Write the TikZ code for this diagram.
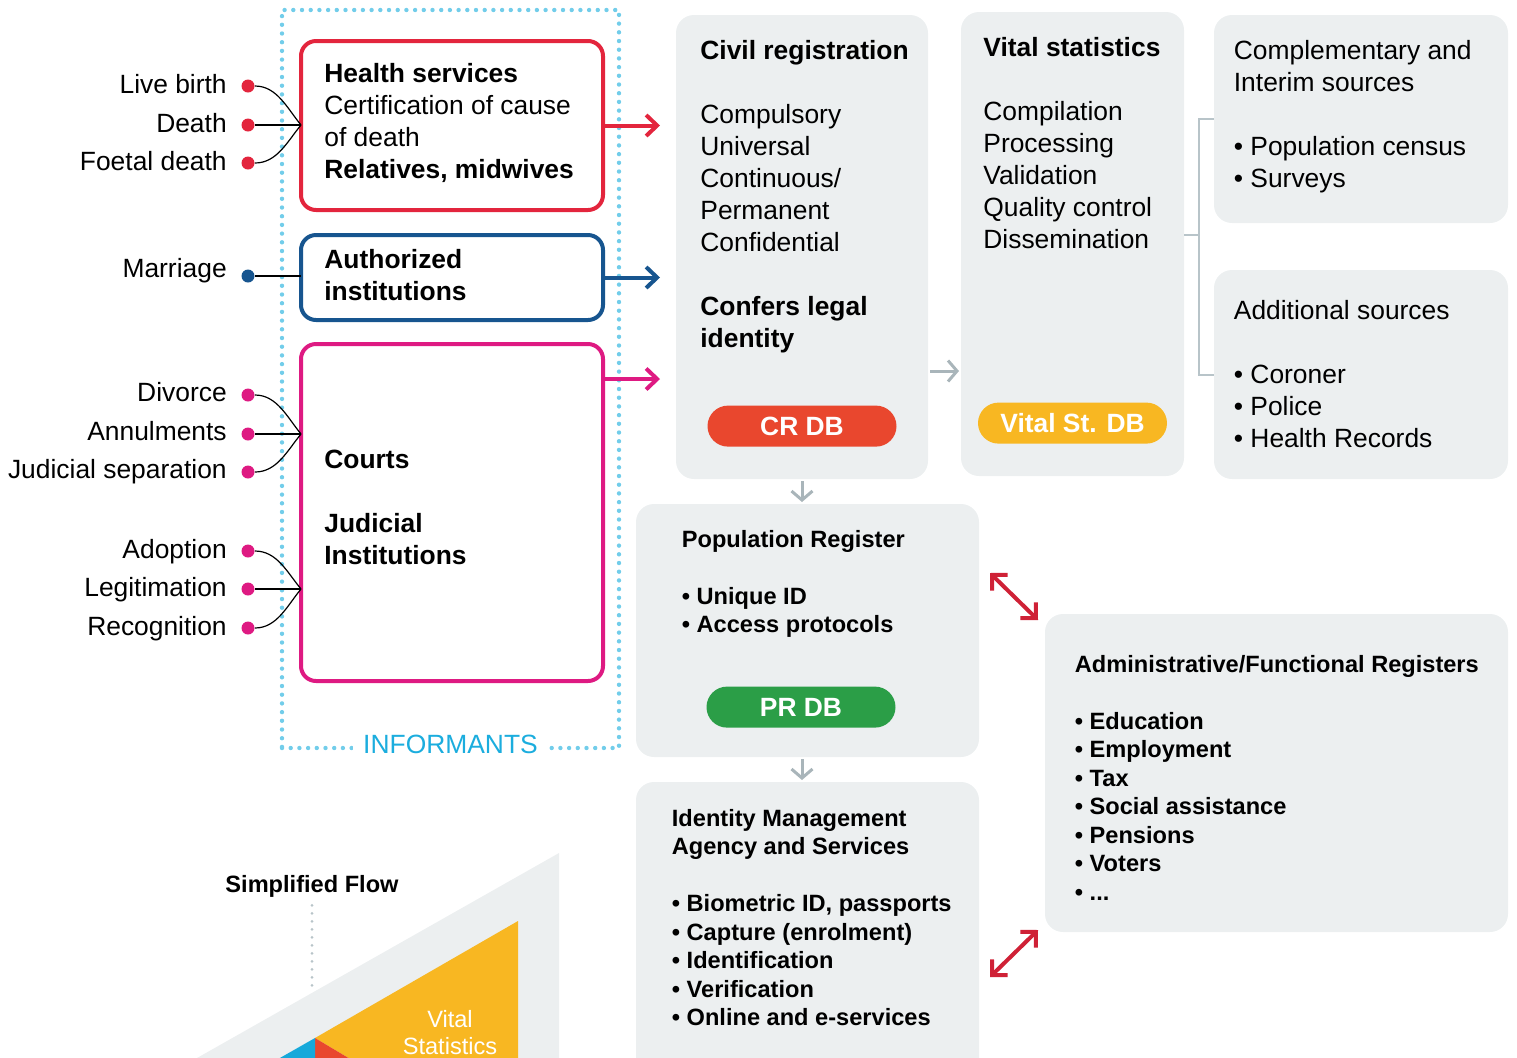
\documentclass[tikz,border=0pt]{standalone}
\usepackage{fontspec}
\setmainfont{Liberation Sans}
\usepackage{xcolor}
\usetikzlibrary{arrows.meta,positioning}

\definecolor{hsred}{HTML}{E3253D}
\definecolor{aiblue}{HTML}{17558F}
\definecolor{ctpink}{HTML}{DE1A82}
\definecolor{infcyan}{HTML}{72CDEA}
\definecolor{inftext}{HTML}{1BADDE}
\definecolor{panel}{HTML}{ECEFF0}
\definecolor{flowgray}{HTML}{A9B5BA}
\definecolor{brkgray}{HTML}{B8C4C9}
\definecolor{crdb}{HTML}{E9472E}
\definecolor{vsdb}{HTML}{F8B722}
\definecolor{prdb}{HTML}{2B9E47}
\definecolor{linkred}{HTML}{CF2136}
\definecolor{sfblue}{HTML}{16A9DA}

\begin{document}
\begin{tikzpicture}[x=0.5pt, y=-0.5pt,
  box/.style={draw, line width=2pt, rounded corners=7.5pt, minimum width=151pt, anchor=north west, outer sep=0pt},
  pnl/.style={fill=panel, rounded corners=9pt, anchor=north west, outer sep=0pt},
  inf/.style={draw=infcyan, line width=2.2pt, dash pattern=on 0pt off 4.35pt, line cap=round, anchor=north west, outer sep=0pt},
  txt/.style={align=left, inner sep=0pt, font=\fontsize{13.2}{16}\selectfont},
  stxt/.style={align=left, inner sep=0pt, font=\fontsize{11.8}{14.25}\selectfont\bfseries},
  db/.style={rounded corners=10.25pt, minimum width=94.5pt, minimum height=20.5pt, text=white, font=\fontsize{13.2}{16}\selectfont\bfseries},
  dot/.style={circle, inner sep=0pt, minimum size=6.5pt},
  evt/.style={inner sep=0pt, text height=9.45pt, text depth=0pt, font=\fontsize{13.2}{16}\selectfont},
  brace/.style={line width=0.6pt},
  inarr/.style={line width=2pt, -{Straight Barb[length=5.5pt, width=10.5pt]}},
  flow/.style={flowgray, line width=1.5pt, -{Straight Barb[length=4.5pt, width=10.5pt]}, shorten <=1pt, shorten >=1pt},
  brkline/.style={brkgray, line width=1pt},
  link/.style={linkred, line width=2pt, {Straight Barb[length=5.5pt, width=11pt]}-{Straight Barb[length=5.5pt, width=11pt]}}
]
\useasboundingbox (0,0) rectangle (1517,1057);

% informants
\node[inf, minimum width=168.5pt, minimum height=369pt] (inf) at (282,10) {};
\node[evt, fill=white, inner xsep=5pt, text=inftext, yshift=2pt] (infl) at (inf.south) {INFORMANTS};

% events
\node[dot, fill=hsred] (lb) at (248,86) {};
\node[dot, fill=hsred] (dth) at (248,125) {};
\node[dot, fill=hsred] (fd) at (248,163) {};
\node[dot, fill=aiblue] (mar) at (248,276) {};
\node[dot, fill=ctpink] (div) at (248,395) {};
\node[dot, fill=ctpink] (ann) at (248,434) {};
\node[dot, fill=ctpink] (jsep) at (248,472) {};
\node[dot, fill=ctpink] (adop) at (248,551) {};
\node[dot, fill=ctpink] (legit) at (248,589) {};
\node[dot, fill=ctpink] (recog) at (248,628) {};

\node[evt, left=7pt of lb, yshift=1pt] {Live birth};
\node[evt, left=7pt of dth, yshift=1pt] {Death};
\node[evt, left=7pt of fd, yshift=1pt] {Foetal death};
\node[evt, left=7pt of mar, yshift=4pt] {Marriage};
\node[evt, left=7pt of div, yshift=1.5pt] {Divorce};
\node[evt, left=7pt of ann, yshift=1.5pt] {Annulments};
\node[evt, left=7pt of jsep, yshift=1.5pt] {Judicial separation};
\node[evt, left=7pt of adop, yshift=1pt] {Adoption};
\node[evt, left=7pt of legit, yshift=1pt] {Legitimation};
\node[evt, left=7pt of recog, yshift=1pt] {Recognition};

% informant boxes
\node[box, draw=hsred, minimum height=84.5pt] (hs) at (301,41) {};
\node[box, draw=aiblue, minimum height=42.5pt] (ai) at (301,235) {};
\node[box, draw=ctpink, minimum height=168.5pt] (ct) at (301,344) {};

\draw[brace] (lb.east) .. controls +(22,0) and +(-14,-17) .. (hs.west |- dth);
\draw[brace] (dth.east) -- (hs.west |- dth);
\draw[brace] (fd.east) .. controls +(22,0) and +(-14,17) .. (hs.west |- dth);
\draw[brace] (mar.east) -- (ai.west |- mar);
\draw[brace] (div.east) .. controls +(22,0) and +(-14,-17) .. (ct.west |- ann);
\draw[brace] (ann.east) -- (ct.west |- ann);
\draw[brace] (jsep.east) .. controls +(22,0) and +(-14,17) .. (ct.west |- ann);
\draw[brace] (adop.east) .. controls +(22,0) and +(-14,-17) .. (ct.west |- legit);
\draw[brace] (legit.east) -- (ct.west |- legit);
\draw[brace] (recog.east) .. controls +(22,0) and +(-14,17) .. (ct.west |- legit);

\node[txt, below right=10.75pt and 11.5pt of hs.north west] {\textbf{Health services}\\Certification of cause\\of death\\\textbf{Relatives, midwives}};
\node[txt, font=\fontsize{13.2}{16}\selectfont\bfseries, below right=6.75pt and 11.5pt of ai.north west] {Authorized\\institutions};
\node[txt, font=\fontsize{13.2}{16}\selectfont\bfseries, below right=52.75pt and 11.5pt of ct.north west] {Courts\\[16pt]Judicial\\Institutions};

% registration and statistics
\node[pnl, minimum width=126pt, minimum height=232pt] (civ) at (676,15) {};
\node[pnl, minimum width=111.5pt, minimum height=232pt] (vs) at (961,12) {};
\node[pnl, minimum width=147pt, minimum height=104pt] (cs) at (1214,15) {};
\node[pnl, minimum width=147pt, minimum height=104.5pt] (as) at (1214,270) {};
\node[pnl, minimum width=171.5pt, minimum height=126.5pt] (pr) at (636,504) {};
\node[pnl, minimum width=171.5pt, minimum height=150pt] (im) at (636,782) {};
\node[pnl, minimum width=231.5pt, minimum height=159pt] (am) at (1045,614) {};

\node[txt, below right=12.25pt and 12pt of civ.north west] {\textbf{Civil registration}\\[16pt]Compulsory\\Universal\\Continuous/\\Permanent\\Confidential\\[16pt]\textbf{Confers legal}\\\textbf{identity}};
\node[txt, below right=12.25pt and 11pt of vs.north west] {\textbf{Vital statistics}\\[16pt]Compilation\\Processing\\Validation\\Quality control\\Dissemination};
\node[txt, below right=12.25pt and 9.75pt of cs.north west] {Complementary and\\Interim sources\\[16pt]• Population census\\• Surveys};
\node[txt, below right=14.75pt and 9.75pt of as.north west] {Additional sources\\[16pt]• Coroner\\• Police\\• Health Records};
\node[stxt, below right=12.75pt and 22.75pt of pr.north west] {Population Register\\[14.25pt]• Unique ID\\• Access protocols};
\node[stxt, below right=13.25pt and 17.75pt of im.north west] {Identity Management\\Agency and Services\\[14.25pt]• Biometric ID, passports\\• Capture (enrolment)\\• Identification\\• Verification\\• Online and e-services};
\node[stxt, below right=20.25pt and 14.75pt of am.north west] {Administrative/Functional Registers\\[14.25pt]• Education\\• Employment\\• Tax\\• Social assistance\\• Pensions\\• Voters\\• ...};

\node[db, fill=crdb, above=16pt of civ.south] (crdb) {CR DB};
\node[db, fill=vsdb, above=16pt of vs.south] (vsdb) {Vital St. DB};
\node[db, fill=prdb, above=14.5pt of pr.south, xshift=-3.25pt] (prdb) {PR DB};

% connectors
\coordinate (civin) at ([xshift=-8pt]civ.west);
\coordinate (ctout) at ([yshift=-17.5pt]ct.north east);
\draw[inarr, hsred] (hs.east) -- (civin |- hs.east);
\draw[inarr, aiblue] (ai.east) -- (civin |- ai.east);
\draw[inarr, ctpink] (ctout) -- (civin |- ctout);

\coordinate (vin) at ([yshift=-62pt]civ.east);
\draw[flow] (vin) -- (vin -| vs.west);
\draw[flow] (civ.south) -- (civ.south |- pr.north);
\draw[flow] (civ.south |- pr.south) -- (civ.south |- im.north);

\coordinate (brk) at ([yshift=4.5pt]vs.east);
\draw[brkline] (cs.west) -- ++(-15,0) |- (as.west);
\draw[brkline] (brk) -- ++(15,0);

\draw[link] ([shift={(11,69)}]pr.north east) -- ([shift={(-7,6)}]am.north west);
\draw[link] ([shift={(11,195)}]im.north east) -- ([shift={(-7,-2)}]am.south west);

% simplified flow
\fill[panel] (559,853) -- (559,1075) -- (167,1075) -- cycle;
\fill[vsdb] (518,921) -- (518,1075) -- (377,1075) -- (315,1038) -- cycle;
\fill[crdb] (315,1038) -- (377,1075) -- (315,1075) -- cycle;
\fill[sfblue] (315,1038) -- (315,1075) -- (250,1075) -- cycle;
\node[align=center, inner sep=0pt, text=white, font=\fontsize{11.8}{13.5}\selectfont] (vstat) at (450,1032.5) {Vital\\Statistics};
\node[evt, text height=8.45pt, font=\fontsize{11.8}{14.25}\selectfont\bfseries] (sf) at (312,884) {Simplified Flow};
\draw[brkgray, line width=1.5pt, dash pattern=on 0pt off 4pt, line cap=round] ([yshift=-6.25pt]sf.south) -- ++(0,82);

\end{tikzpicture}
\end{document}
